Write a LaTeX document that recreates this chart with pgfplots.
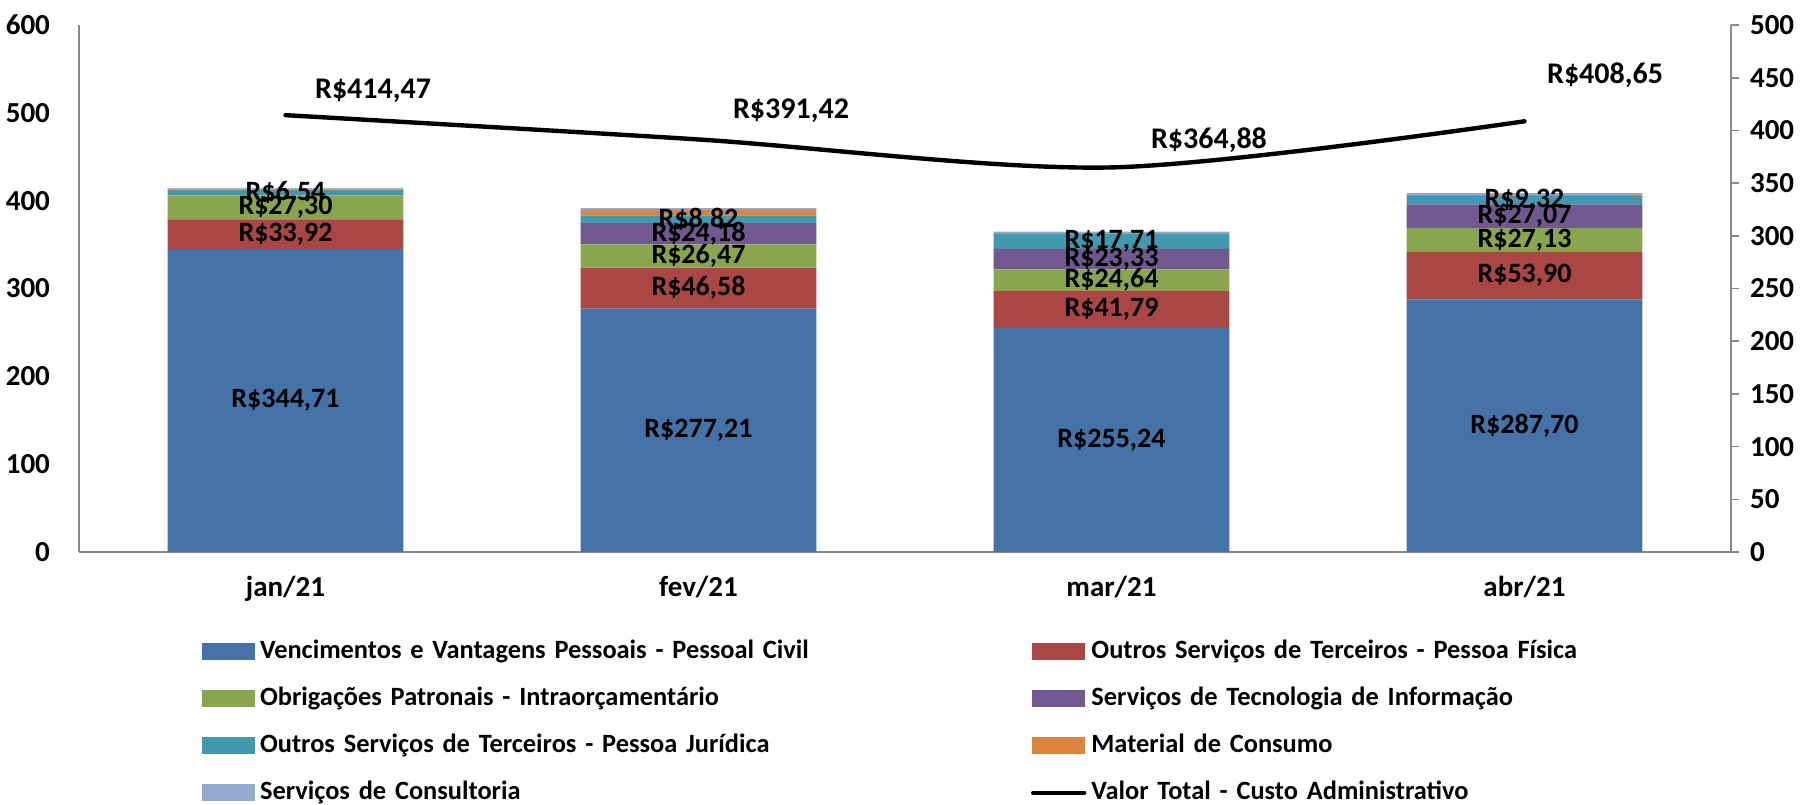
\documentclass[border=0pt]{standalone}
\usepackage{pgfplots}
\usepackage{pgfplotstable}
\pgfplotsset{compat=1.18}
\usepackage{fontspec}
\setmainfont{Carlito}
\definecolor{cA}{HTML}{4572A7}
\definecolor{cB}{HTML}{AA4643}
\definecolor{cC}{HTML}{89A54E}
\definecolor{cD}{HTML}{71588F}
\definecolor{cE}{HTML}{4198AF}
\definecolor{cF}{HTML}{DB843D}
\definecolor{cG}{HTML}{93A9CF}
\definecolor{axgray}{HTML}{898989}
\pgfplotstableread{
x venc pf obrig tec pj mat cons
0 344.71 33.92 27.30 0 6.54 1.30 0.70
1 277.21 46.58 26.47 24.18 8.82 6.20 1.96
2 255.24 41.79 24.64 23.33 17.71 0.30 1.87
3 287.70 53.90 27.13 27.07 9.32 1.50 2.03
}\bars
\pgfplotstableread{
x y label
0 172.36 R\$344,71
0 361.67 R\$33,92
0 392.28 R\$27,30
0 409.20 R\$6,54
1 138.61 R\$277,21
1 300.50 R\$46,58
1 337.03 R\$26,47
1 362.35 R\$24,18
1 378.85 R\$8,82
2 127.62 R\$255,24
2 276.14 R\$41,79
2 309.35 R\$24,64
2 333.34 R\$23,33
2 353.86 R\$17,71
3 143.85 R\$287,70
3 314.65 R\$53,90
3 355.17 R\$27,13
3 382.27 R\$27,07
3 400.46 R\$9,32
}\labs
\pgfplotstableread{
x y
0 414.47
1 391.42
2 364.88
3 408.65
}\total
\begin{document}
\begin{tikzpicture}
\useasboundingbox (0,0) rectangle (901pt,402pt);
\begin{axis}[
  at={(39.5pt,126pt)}, anchor=south west,
  scale only axis, width=826pt, height=263.5pt,
  ybar stacked, bar width=0.571,
  xmin=-0.5, xmax=3.5, ymin=0, ymax=600,
  xtick={0,1,2,3}, xticklabels={jan/21,fev/21,mar/21,abr/21},
  ytick={0,100,...,600},
  axis x line*=bottom, axis y line*=left,
  axis line style={draw=axgray, line width=0.8pt, -},
  major tick length=0pt,
  /pgf/number format/assume math mode=true,
  tick label style={font=\bfseries\fontsize{14.5}{14.5}\selectfont},
  yticklabel style={anchor=east, xshift=-11pt},
  xticklabel style={anchor=base, yshift=-22pt},
  legend columns=2,
  legend cell align=left,
  legend style={draw=none, fill=none, inner sep=0pt, outer sep=0pt,
    at={(0.07446,-0.1647)}, anchor=north west,
    font=\bfseries\fontsize{13.2}{13.2}\selectfont,
    row sep=10.5pt, column sep=0pt,
    nodes={text width=383pt, inner xsep=2.5pt, inner ysep=0pt, text height=10pt, text depth=3pt}},
  legend image code/.code={\fill[#1] (0pt,-4.2pt) rectangle (26.5pt,4.2pt);},
]
\addplot[fill=cA, draw=none] table[x=x,y=venc] {\bars};
\addlegendentry{Vencimentos e Vantagens Pessoais - Pessoal Civil}
\addplot[fill=cB, draw=none] table[x=x,y=pf] {\bars};
\addlegendentry{Outros Serviços de Terceiros - Pessoa Física}
\addplot[fill=cC, draw=none] table[x=x,y=obrig] {\bars};
\addlegendentry{Obrigações Patronais - Intraorçamentário}
\addplot[fill=cD, draw=none] table[x=x,y=tec] {\bars};
\addlegendentry{Serviços de Tecnologia de Informação}
\addplot[fill=cE, draw=none] table[x=x,y=pj] {\bars};
\addlegendentry{Outros Serviços de Terceiros - Pessoa Jurídica}
\addplot[fill=cF, draw=none] table[x=x,y=mat] {\bars};
\addlegendentry{Material de Consumo}
\addplot[fill=cG, draw=none] table[x=x,y=cons] {\bars};
\addlegendentry{Serviços de Consultoria}
\addlegendimage{legend image code/.code={\draw[black, line width=2.2pt, line cap=round] (0.5pt,0pt) -- (26pt,0pt);}}
\addlegendentry{Valor Total - Custo Administrativo}
\end{axis}
% bar labels
\begin{axis}[
  at={(39.5pt,126pt)}, anchor=south west,
  scale only axis, width=826pt, height=263.5pt,
  xmin=-0.5, xmax=3.5, ymin=0, ymax=600,
  hide axis,
]
\addplot[draw=none, mark=none, nodes near coords, point meta=explicit symbolic,
  every node near coord/.append style={anchor=center, inner sep=0pt,
    font=\bfseries\fontsize{14}{14}\selectfont}]
  table[x=x,y=y,meta=label] {\labs};
\end{axis}
% line on right axis
\begin{axis}[
  at={(39.5pt,126pt)}, anchor=south west,
  scale only axis, width=826pt, height=263.5pt,
  xmin=-0.5, xmax=3.5, ymin=0, ymax=500,
  axis x line=none, axis y line*=right,
  axis line style={draw=axgray, line width=0.8pt, -},
  ytick={0,50,...,500},
  tick align=outside, major tick length=4pt,
  tick style={draw=axgray, line width=0.8pt},
  /pgf/number format/assume math mode=true,
  tick label style={font=\bfseries\fontsize{14.5}{14.5}\selectfont},
  yticklabel style={anchor=west, xshift=2pt},
]
\addplot[black, line width=2.2pt, line cap=round, smooth, mark=none] table[x=x,y=y] {\total};
\node[font=\bfseries\fontsize{15}{15}\selectfont] at (axis cs:0.212,437.4) {R\$414,47};
\node[font=\bfseries\fontsize{15}{15}\selectfont] at (axis cs:1.224,418.4) {R\$391,42};
\node[font=\bfseries\fontsize{15}{15}\selectfont] at (axis cs:2.236,390.9) {R\$364,88};
\node[font=\bfseries\fontsize{15}{15}\selectfont] at (axis cs:3.195,452.6) {R\$408,65};
\end{axis}
\end{tikzpicture}
\end{document}
